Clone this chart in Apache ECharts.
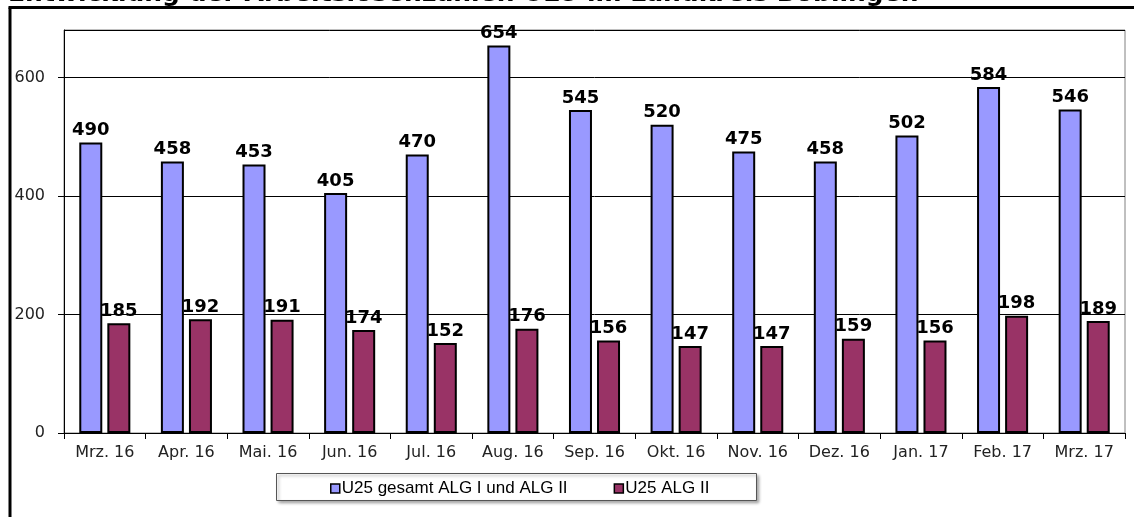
<!DOCTYPE html>
<html>
<head>
<meta charset="utf-8">
<script src="https://cdn.jsdelivr.net/npm/echarts@6/dist/echarts.min.js"></script>
<style>
  html, body { margin: 0; padding: 0; background: #fff; }
  #chart { width: 1134px; height: 517px; }
</style>
</head>
<body>
<div id="chart"></div>
<script>
// Monthly unemployment figures for people under 25
const months = ['Mrz. 16', 'Apr. 16', 'Mai. 16', 'Jun. 16', 'Jul. 16', 'Aug. 16', 'Sep. 16',
                'Okt. 16', 'Nov. 16', 'Dez. 16', 'Jan. 17', 'Feb. 17', 'Mrz. 17'];
const totalU25 = [490, 458, 453, 405, 470, 654, 545, 520, 475, 458, 502, 584, 546];
const alg2U25 = [185, 192, 191, 174, 152, 176, 156, 147, 147, 159, 156, 198, 189];
const seriesNames = ['U25 gesamt ALG I und ALG II', 'U25 ALG II'];
const titleText = 'Entwicklung der Arbeitslosenzahlen U25 im Landkreis Böblingen';

const WIDE = '"DejaVu Sans", Arial, sans-serif';
const ARIAL = '"Liberation Sans", Arial, sans-serif';

const chart = echarts.init(document.getElementById('chart'), null, { renderer: 'canvas' });

const labelStyle = {
  show: true,
  position: 'top',
  distance: 3,
  fontFamily: WIDE,
  fontWeight: 'bold',
  fontSize: 18,
  color: '#000'
};

chart.setOption({
  animation: false,
  backgroundColor: '#fff',
  textStyle: { fontFamily: WIDE },
  graphic: [
    // outer frame (left and top edges)
    { type: 'line', shape: { x1: 10, y1: 7.5, x2: 10, y2: 517 }, style: { stroke: '#000', lineWidth: 3 } },
    { type: 'line', shape: { x1: 8.5, y1: 7.5, x2: 1134, y2: 7.5 }, style: { stroke: '#000', lineWidth: 3 } },
    // title, mostly above the top edge of the canvas
    { type: 'text', left: 8, top: -18,
      style: { text: titleText, font: 'bold 25px "DejaVu Sans", Arial, sans-serif', fill: '#000' } },
    // legend box
    { type: 'rect', shape: { x: 276.5, y: 473.5, width: 480, height: 27 },
      style: { fill: '#fff', stroke: '#555', lineWidth: 1,
               shadowBlur: 3, shadowOffsetX: 2, shadowOffsetY: 2, shadowColor: 'rgba(0,0,0,0.35)' },
      z: 0 }
  ],
  legend: {
    data: seriesNames,
    left: 325,
    top: 475,
    itemGap: 46,
    itemWidth: 9,
    itemHeight: 9,
    icon: 'rect',
    itemStyle: { borderColor: '#000', borderWidth: 1.5 },
    textStyle: { fontSize: 17, color: '#000', fontFamily: ARIAL, padding: [0, 0, 0, -3] },
    z: 10
  },
  grid: {
    left: 64, right: 9, top: 30, bottom: 84,
    show: true, borderColor: '#808080', borderWidth: 1,
    containLabel: false
  },
  xAxis: {
    type: 'category',
    data: months,
    axisLine: { lineStyle: { color: '#000', width: 1 } },
    axisTick: { show: true, length: 6, lineStyle: { color: '#000' } },
    axisLabel: { fontSize: 16, color: '#222', margin: 12, fontFamily: WIDE }
  },
  yAxis: {
    type: 'value',
    min: 0,
    max: 680,
    interval: 200,
    axisLine: { show: true, lineStyle: { color: '#000', width: 1 } },
    axisTick: { show: true, length: 6, lineStyle: { color: '#000' } },
    axisLabel: { fontSize: 16, color: '#222', margin: 19, showMaxLabel: false, fontFamily: WIDE },
    splitLine: { lineStyle: { color: '#000', width: 1 } }
  },
  series: [
    {
      name: seriesNames[0],
      type: 'bar',
      data: totalU25,
      barWidth: 23,
      barGap: '22%',
      itemStyle: { color: '#9999FF', borderColor: '#000', borderWidth: 2 },
      label: labelStyle
    },
    {
      name: seriesNames[1],
      type: 'bar',
      data: alg2U25,
      barWidth: 23,
      barGap: '22%',
      itemStyle: { color: '#993366', borderColor: '#000', borderWidth: 2 },
      label: labelStyle
    }
  ]
});
</script>
</body>
</html>
